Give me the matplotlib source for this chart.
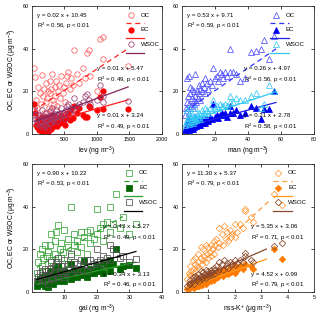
import matplotlib
matplotlib.use('Agg')
import matplotlib.pyplot as plt
import numpy as np

plt.rcParams['font.family'] = ['Liberation Sans', 'DejaVu Sans']
plt.rcParams['mathtext.default'] = 'regular'

# ---- lev panel ----
lev = [30, 45, 60, 80, 95, 110, 120, 135, 150, 160, 170, 180, 190, 200, 210,
       220, 230, 240, 250, 260, 270, 280, 290, 300, 310, 320, 335, 350, 360, 375,
       390, 400, 415, 430, 450, 470, 490, 505, 520, 540, 560, 580, 600, 630, 650,
       700, 720, 780, 820, 850, 880, 900, 1000, 1050, 1100, 1100, 1480]
lev_oc = [31, 26.5, 16, 12, 22, 9, 19, 14, 27.5, 6, 18, 10, 21, 8, 24,
          15, 17, 5, 20, 12, 25, 19, 11, 21, 28, 16, 14, 22, 18, 25,
          13, 20, 23, 17, 27, 19, 22, 15, 24, 27, 29, 21, 26, 23, 39.5,
          28, 24, 31, 26, 38, 39.5, 27, 20, 44.5, 45.5, 35, 32]
lev_ec = [14, 10, 4, 3, 7, 2, 6, 4, 8, 1, 5, 2.5, 6.5, 1.5, 8,
          3, 4.5, 1, 5.5, 3, 7, 5, 2.5, 6, 9, 4, 3.5, 7, 5, 8,
          3.5, 6, 7.5, 5, 9, 5.5, 7, 4, 8, 10, 9.5, 6.5, 11, 7.5, 13,
          10, 12, 9, 8, 8, 13, 12.5, 11, 17.5, 20, 11.5, 11.5]
lev_wsoc = [11, 9, 7, 5, 9, 4, 8, 6, 11, 3, 7.5, 4.5, 8.5, 3.5, 10,
            6, 7, 2.5, 8, 5, 10.5, 8, 5, 9, 12, 7, 6, 9.5, 8, 11,
            6, 9, 10, 8, 12, 9, 10, 7, 11, 13, 14, 10, 12, 11, 17,
            13, 14, 15, 18, 18.5, 16, 14, 16, 23, 18, 15, 15.5]

# ---- man panel ----
man = [2, 2.5, 3, 3, 3.5, 4, 4, 4.5, 5, 5, 5.5, 6, 6, 6.5, 7,
       7, 7.5, 8, 8, 8.5, 9, 9.5, 10, 10, 11, 11, 12, 12, 13, 14,
       14, 15, 16, 17, 18, 19, 20, 21, 22, 23, 24, 25, 26, 27, 29,
       29, 31, 33, 35, 38, 42, 45, 48, 50, 53, 56]
man_oc = [9, 12, 26, 15, 18, 10, 27, 14, 22, 19, 13, 17, 21, 12, 16,
          20, 14, 28, 18, 15, 20, 17, 23, 19, 21, 16, 24, 20, 22, 26,
          19, 24, 21, 25, 23, 31, 26, 27, 25, 29, 28, 26, 29, 27, 40,
          29, 29, 28, 25, 26, 38.5, 39, 40, 44, 35, 46]
man_ec = [2, 3, 6, 3, 4, 2, 7, 3, 5, 4, 2.5, 4, 5, 2.5, 3.5,
          5, 3, 8, 4, 3.5, 5, 4, 6, 4.5, 5, 4, 7, 5, 6, 7,
          5, 7, 6, 8, 7, 14, 8, 9, 7.5, 9, 10, 9, 10, 8, 13,
          10, 10, 11, 9, 10, 13, 12, 7, 11.5, 11.5, 20]
man_wsoc = [4, 5, 11, 6, 8, 4.5, 12, 6, 9, 8, 5.5, 7, 9, 5, 7,
            8.5, 6, 12, 8, 6.5, 9, 7.5, 10, 8, 9, 7, 11, 9, 10, 12,
            9, 11, 10, 12, 11, 16, 12, 13, 12, 14, 13, 13, 14, 13, 18,
            15, 15, 17, 16, 16, 18, 19, 12, 14, 23, 20]

# ---- gal panel ----
gal = [1.5, 2, 2.5, 3, 3, 3.5, 4, 4, 4.5, 5, 5, 5.5, 6, 6, 6.5,
       7, 7, 7.5, 8, 8, 8.5, 9, 9, 9.5, 10, 10, 11, 11, 12, 12,
       13, 13, 14, 14, 15, 15, 16, 17, 17, 18, 18, 19, 20, 20, 21,
       22, 22, 23, 24, 24, 25, 26, 27, 28, 30, 32]
gal_oc = [9, 14, 18, 12, 20, 16, 22, 10, 17, 19, 8, 22, 15, 27, 12,
          24, 18, 28, 14, 31.5, 20, 16, 23, 19, 29, 13, 21, 25, 40, 17,
          27, 22, 19, 24, 28, 21, 26, 28, 18, 29, 23, 25, 39, 27, 30,
          32, 24, 33, 40, 28, 32, 46, 30, 35, 27, 32]
gal_ec = [3, 5, 6, 4, 7, 5, 8, 3, 6, 7, 2.5, 9, 5, 10, 4,
          9, 6, 11, 5, 12, 7, 6, 9, 7, 10, 5, 8, 9, 13, 6,
          10, 8, 7, 9, 11, 8, 14.5, 10, 7, 11, 9, 9, 12, 10, 11,
          14, 9, 12, 15, 10, 13, 20, 11, 12, 12.5, 11.5]
gal_wsoc = [5, 7, 9, 6, 10, 8, 11, 5, 8, 10, 4, 11, 7, 14, 6,
            12, 9, 14, 7, 16, 10, 8, 12, 9, 15, 7, 11, 13, 18, 9,
            14, 11, 10, 13, 15, 11, 13, 15, 10, 15, 12, 13, 20, 14, 15,
            17, 13, 16, 22, 15, 20, 18, 16, 17, 14, 15.5]

# ---- nss-K+ panel ----
kp = [0.2, 0.25, 0.3, 0.3, 0.35, 0.4, 0.4, 0.45, 0.5, 0.5, 0.55, 0.6, 0.6, 0.65, 0.7,
      0.7, 0.75, 0.8, 0.8, 0.85, 0.9, 0.9, 0.95, 1.0, 1.0, 1.05, 1.1, 1.1, 1.15, 1.2,
      1.2, 1.25, 1.3, 1.35, 1.4, 1.4, 1.5, 1.55, 1.6, 1.65, 1.7, 1.75, 1.8, 1.85, 1.9,
      2.0, 2.0, 2.1, 2.2, 2.3, 2.4, 2.4, 2.6, 2.7, 3.5, 3.8]
kp_oc = [6, 9, 8, 12, 10, 11, 15, 9, 13, 16, 12, 14, 18, 11, 16,
         21, 13, 15, 20, 17, 14, 22, 18, 16, 21, 19, 22, 17, 20, 24,
         18, 22, 25, 21, 30, 23, 27, 22, 31, 25, 28, 24, 29, 26, 27,
         26, 32, 28, 32, 30, 39, 38, 35, 33, 46, 41]
kp_ec = [1.5, 2, 2, 3, 2.5, 3, 4, 2, 3.5, 4.5, 3, 4, 5, 3, 4.5,
         6, 3.5, 4, 6, 5, 4, 7, 5.5, 5, 6.5, 6, 7, 5, 6.5, 8,
         5.5, 7, 8.5, 7, 10, 8, 9, 7.5, 11, 9, 10, 8.5, 11, 9.5, 10,
         9, 12, 10.5, 12, 11, 13, 12.5, 12, 11, 20, 15.5]
kp_wsoc = [3, 4, 4, 5.5, 4.5, 5, 7, 4, 6, 7.5, 5.5, 6.5, 8.5, 5, 7.5,
           10, 6, 7, 9.5, 8, 6.5, 10.5, 8.5, 7.5, 10, 9, 10.5, 8, 9.5, 11.5,
           8.5, 10.5, 12, 10, 14, 11, 13, 10.5, 15, 12, 13.5, 11.5, 14, 12.5, 13,
           12.5, 15, 13.5, 15, 14, 18.5, 17, 15, 14, 21.5, 23]

# regression lines (slope, intercept, x start, x end) for OC, EC, WSOC
lev_fit = [(0.020, 10.45, 30, 1480), (0.0086, 3.24, 30, 1480), (0.0112, 5.47, 30, 1480)]
man_fit = [(0.53, 9.71, 2, 57), (0.21, 2.78, 2, 57), (0.26, 4.97, 2, 57)]
gal_fit = [(0.90, 10.22, 1.5, 28), (0.34, 3.13, 1.5, 32), (0.43, 5.27, 1.5, 32)]
kp_fit = [(11.30, 5.37, 0.2, 3.3), (4.52, 0.99, 0.2, 3.2), (5.35, 3.06, 0.2, 3.2)]

# equation labels: OC (top-left), WSOC (middle), EC (bottom)
lev_eq = ['y = 0.02 x + 10.45\nR$^2$ = 0.56, p < 0.01',
          'y = 0.01 x + 5.47\nR$^2$ = 0.49, p < 0.01',
          'y = 0.01 x + 3.24\nR$^2$ = 0.49, p < 0.01']
man_eq = ['y = 0.53 x + 9.71\nR$^2$ = 0.59, p < 0.01',
          'y = 0.26 x + 4.97\nR$^2$ = 0.56, p < 0.01',
          'y = 0.21 x + 2.78\nR$^2$ = 0.58, p < 0.01']
gal_eq = ['y = 0.90 x + 10.22\nR$^2$ = 0.53, p < 0.01',
          'y = 0.43 x + 5.27\nR$^2$ = 0.49, p < 0.01',
          'y = 0.34 x + 3.13\nR$^2$ = 0.46, p < 0.01']
kp_eq = ['y = 11.30 x + 5.37\nR$^2$ = 0.79, p < 0.01',
         'y = 5.35 x + 3.06\nR$^2$ = 0.71, p < 0.01',
         'y = 4.52 x + 0.99\nR$^2$ = 0.79, p < 0.01']

legend_names = ['OC', 'EC', 'WSOC']

panels = [
    dict(x=lev, oc=lev_oc, ec=lev_ec, ws=lev_wsoc, fit=lev_fit, eq=lev_eq, mk='o',
         cols=['#FF5A5A', '#FF0000', '#993D73'], lcols=['#FF2020', '#FF2020', '#80265C'],
         xlim=(0, 2000), xt=[500, 1000, 1500, 2000], xl='lev (ng m$^{-3}$)', mx=0.50,
         lg=0.76, rect=[0.100, 0.583, 0.406, 0.398]),
    dict(x=man, oc=man_oc, ec=man_ec, ws=man_wsoc, fit=man_fit, eq=man_eq, mk='^',
         cols=['#5050FF', '#0000F0', '#33C8F5'], lcols=['#3030FF', '#2020E0', '#33C8F5'],
         xlim=(0, 80), xt=[20, 40, 60, 80], xl='man (ng m$^{-3}$)', mx=0.47,
         lg=0.71, rect=[0.569, 0.583, 0.412, 0.398]),
    dict(x=gal, oc=gal_oc, ec=gal_ec, ws=gal_wsoc, fit=gal_fit, eq=gal_eq, mk='s',
         cols=['#3AA63A', '#006400', '#505050'], lcols=['#2E9E2E', '#2E9E2E', '#000000'],
         xlim=(0, 40), xt=[10, 20, 30, 40], xl='gal (ng m$^{-3}$)', mx=0.55,
         lg=0.75, rect=[0.100, 0.090, 0.406, 0.399]),
    dict(x=kp, oc=kp_oc, ec=kp_ec, ws=kp_wsoc, fit=kp_fit, eq=kp_eq, mk='D',
         cols=['#FF9A3C', '#FF7A00', '#8B4A2B'], lcols=['#FF9A3C', '#FF9A1A', '#8B4A2B'],
         xlim=(0, 5), xt=[1, 2, 3, 4, 5], xl='nss-K$^{+}$ ($\\mu$g m$^{-3}$)', mx=0.52,
         lg=0.73, rect=[0.569, 0.090, 0.412, 0.399]),
]

fig = plt.figure(figsize=(3.2, 3.21), dpi=100)

for i, p in enumerate(panels):
    ax = fig.add_axes(p['rect'])
    x = np.array(p['x'])
    ms = 3.9 if p['mk'] != 'D' else 3.3
    for j, (y, fill) in enumerate([(p['oc'], False), (p['ec'], True), (p['ws'], False)]):
        c = p['cols'][j]
        mfc = c if fill else 'none'
        ax.plot(x, y, linestyle='none', marker=p['mk'], ms=ms, mew=0.55,
                mec=c, mfc=mfc)
        k, b, x0, x1 = p['fit'][j]
        xx = np.array([x0, x1])
        if j == 0:
            ax.plot(xx, k * xx + b, color=p['lcols'][j], lw=0.9, ls='--', dashes=(4, 3))
        else:
            ax.plot(xx, k * xx + b, color=p['lcols'][j], lw=0.9, ls='-')

        # legend drawn by hand: marker row + line row
        ym = 0.93 - j * 0.115
        yl = ym - 0.065
        a = p['lg']
        ax.plot([a], [ym], transform=ax.transAxes, linestyle='none', marker=p['mk'],
                ms=ms, mew=0.55, mec=c, mfc=mfc, clip_on=False)
        ax.text(a + 0.075, ym, legend_names[j], transform=ax.transAxes, fontsize=4.4,
                va='center', ha='left')
        if j == 0:
            ax.plot([a - 0.04, a + 0.1], [yl, yl], transform=ax.transAxes,
                    color=p['lcols'][j], lw=0.9, ls='--', dashes=(4, 3))
        else:
            ax.plot([a - 0.04, a + 0.1], [yl, yl], transform=ax.transAxes,
                    color=p['lcols'][j], lw=0.9)

    ax.set_xlim(p['xlim'])
    ax.set_ylim(0, 60)
    ax.set_xticks(p['xt'])
    ax.set_yticks([0, 20, 40, 60])
    ax.tick_params(direction='in', length=2, width=0.5, labelsize=3.9, pad=2,
                   top=True, right=True)
    for s in ax.spines.values():
        s.set_linewidth(0.6)
        s.set_color('#303030')
    ax.set_xlabel(p['xl'], fontsize=4.9, labelpad=2)
    if i % 2 == 0:
        ax.set_ylabel('OC, EC or WSOC ($\\mu$g m$^{-3}$)', fontsize=4.9, labelpad=3)

    ax.text(0.04, 0.875, p['eq'][0], transform=ax.transAxes, fontsize=4.4,
            va='center', ha='left', linespacing=1.5)
    ax.text(p['mx'], 0.455, p['eq'][1], transform=ax.transAxes, fontsize=4.4,
            va='center', ha='left', linespacing=1.5)
    ax.text(p['mx'], 0.087, p['eq'][2], transform=ax.transAxes, fontsize=4.4,
            va='center', ha='left', linespacing=1.5)

fig.savefig('out.png', dpi=100)
